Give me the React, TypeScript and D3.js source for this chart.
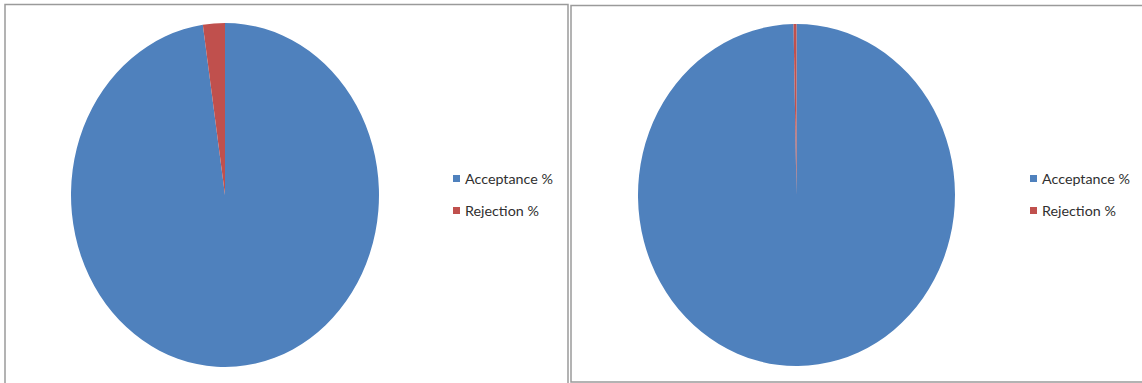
import React from "react";
import * as d3 from "d3";

const categories = ["Acceptance %", "Rejection %"];
const leftValues = [97.7, 2.3];
const rightValues = [99.7, 0.3];
const colors = ["#4F81BD", "#C0504D"];

type PanelProps = {
  values: number[];
  cx: number;
  cy: number;
  rx: number;
  ry: number;
  legendX: number;
  legendY: number;
};

function PiePanel({ values, cx, cy, rx, ry, legendX, legendY }: PanelProps) {
  const pie = d3.pie<number>().sort(null).value((d) => d);
  const arcs = pie(values);
  const arc = d3.arc<d3.PieArcDatum<number>>().innerRadius(0).outerRadius(rx);
  const color = d3.scaleOrdinal<string, string>().domain(categories).range(colors);
  const legendY0 = d3.scaleBand<string>().domain(categories).range([legendY, legendY + 64]);
  return (
    <g>
      <g transform={`translate(${cx},${cy}) scale(1,${ry / rx})`}>
        {arcs.map((a, i) => (
          <path key={i} d={arc(a) || ""} fill={color(categories[i])} />
        ))}
      </g>
      {categories.map((c) => (
        <g key={c} transform={`translate(${legendX},${legendY0(c)})`}>
          <rect x={0} y={-3.5} width={7} height={7} fill={color(c)} />
          <text
            x={12}
            y={0}
            dy="0.35em"
            fontFamily="Lato, 'Open Sans', sans-serif"
            fontSize={14.3}
            fill="#303030"
          >
            {c}
          </text>
        </g>
      ))}
    </g>
  );
}

export default function App() {
  return (
    <svg
      width={1142}
      height={383}
      style={{ position: "absolute", left: 0, top: 0, background: "#fff" }}
    >
      <rect x={0} y={0} width={1142} height={383} fill="#fff" />
      {/* left panel border */}
      <path d="M5,390 V4.5 H568 V390" fill="none" stroke="#9a9a9a" strokeWidth={1.5} />
      {/* right panel border */}
      <path d="M1150,5.5 H571 V382 H1150" fill="none" stroke="#9a9a9a" strokeWidth={1.5} />
      <PiePanel values={leftValues} cx={225} cy={195} rx={154} ry={172} legendX={453} legendY={178.5} />
      <PiePanel values={rightValues} cx={796.5} cy={195} rx={158.5} ry={171} legendX={1030} legendY={178.5} />
    </svg>
  );
}
